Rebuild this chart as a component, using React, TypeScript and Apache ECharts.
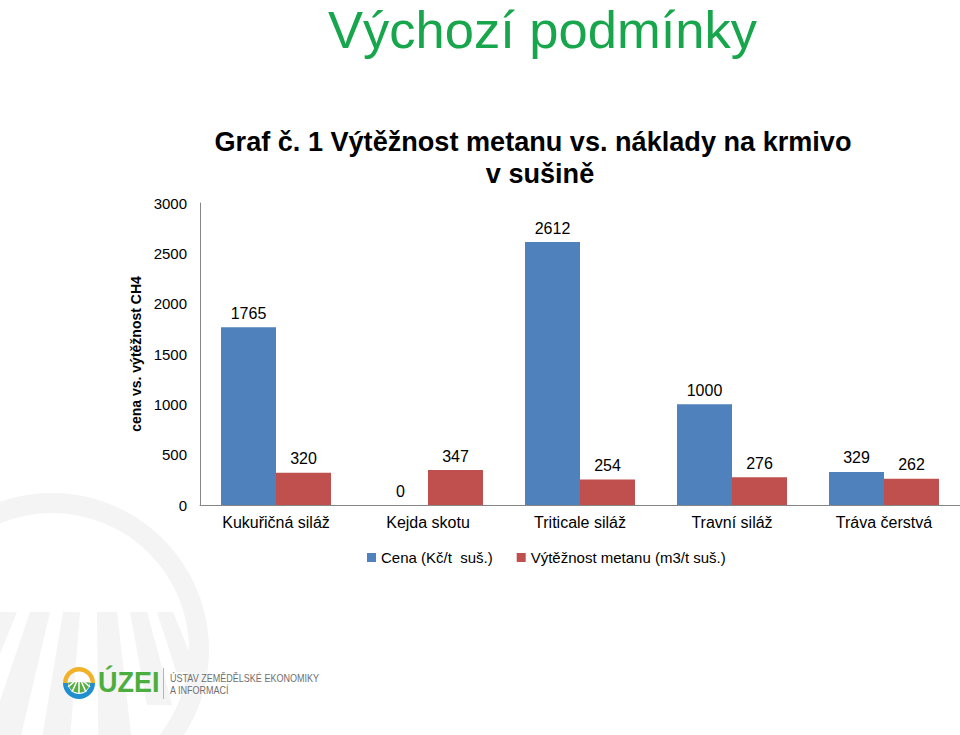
import React, { useEffect, useRef } from "react";
import * as echarts from "echarts";

const categories = ["Kukuřičná siláž", "Kejda skotu", "Triticale siláž", "Travní siláž", "Tráva čerstvá"];
const cenaValues = [1765, 0, 2612, 1000, 329];
const vyteznostValues = [320, 347, 254, 276, 262];
const seriesNames = ["Cena (Kč/t  suš.)", "Výtěžnost metanu (m3/t suš.)"];
const yTicks = { min: 0, max: 3000, interval: 500 };

const FONT = "'Liberation Sans', Arial, Helvetica, sans-serif";

function stripe(x0a: number, x0b: number, yTop: number, yBot: number) {
  const vx = 95, vy = 420;
  const f = (yBot - vy) / (yTop - vy);
  return [
    [x0a, yTop],
    [x0b, yTop],
    [vx + (x0b - vx) * f, yBot],
    [vx + (x0a - vx) * f, yBot],
  ];
}

export default function App() {
  const ref = useRef<HTMLDivElement>(null);
  useEffect(() => {
    if (!ref.current) return;
    const chart = echarts.init(ref.current, null, { renderer: "svg" });
    const wm = "#f4f4f4";
    const stripes = [
      stripe(0, 17, 612, 735),
      stripe(30, 50, 612, 735),
      stripe(63, 80, 612, 735),
      stripe(97, 117, 612, 735),
      stripe(130, 147, 612, 705),
      stripe(157, 173, 612, 672),
    ];
    const cx = 79, cy = 683;
    chart.setOption({
      animation: false,
      backgroundColor: "#ffffff",
      textStyle: { fontFamily: FONT },
      graphic: [
        // watermark
        { type: "ring", silent: true, z: -10, shape: { cx: 52, cy: 650, r: 157, r0: 137 }, style: { fill: wm } },
        ...stripes.map((pts) => ({ type: "polygon", silent: true, z: -10, shape: { points: pts }, style: { fill: wm } })),
        // main heading
        {
          type: "text", x: 328, y: 29,
          style: { text: "Výchozí podmínky", fontSize: 52.5, lineHeight: 48, fontFamily: FONT, fill: "#17a64b", textAlign: "left", textVerticalAlign: "middle" },
        },
        // chart title
        {
          type: "text", x: 533, y: 141, scaleX: 0.968,
          style: { text: "Graf č. 1 Výtěžnost metanu vs. náklady na krmivo", fontSize: 28, fontWeight: "bold", fontFamily: FONT, fill: "#000", textAlign: "center", textVerticalAlign: "middle" },
        },
        {
          type: "text", x: 540, y: 173, scaleX: 0.968,
          style: { text: "v sušině", fontSize: 28, fontWeight: "bold", fontFamily: FONT, fill: "#000", textAlign: "center", textVerticalAlign: "middle" },
        },
        // logo icon
        { type: "sector", shape: { cx, cy, r: 16, r0: 11.5, startAngle: Math.PI, endAngle: Math.PI * 2 }, style: { fill: "#f2b227" } },
        { type: "sector", shape: { cx, cy, r: 16, r0: 11, startAngle: 0, endAngle: Math.PI }, style: { fill: "#1f8fd0" } },
        { type: "sector", shape: { cx, cy: cy - 1, r: 11, startAngle: 0.05, endAngle: Math.PI - 0.05 }, style: { fill: "#5aad45" } },
        { type: "line", shape: { x1: cx, y1: cy - 2, x2: cx, y2: cy + 11 }, style: { stroke: "#fff", lineWidth: 1.5 } },
        { type: "line", shape: { x1: cx - 2, y1: cy - 2, x2: cx - 7, y2: cy + 9 }, style: { stroke: "#fff", lineWidth: 1.5 } },
        { type: "line", shape: { x1: cx + 2, y1: cy - 2, x2: cx + 7, y2: cy + 9 }, style: { stroke: "#fff", lineWidth: 1.5 } },
        { type: "line", shape: { x1: cx - 4, y1: cy - 2, x2: cx - 11, y2: cy + 4 }, style: { stroke: "#fff", lineWidth: 1.5 } },
        { type: "line", shape: { x1: cx + 4, y1: cy - 2, x2: cx + 11, y2: cy + 4 }, style: { stroke: "#fff", lineWidth: 1.5 } },
        {
          type: "text", x: 98, y: 681, scaleX: 0.9,
          style: { text: "ÚZEI", fontSize: 30, fontWeight: "bold", fontFamily: FONT, fill: "#4cae3f", textAlign: "left", textVerticalAlign: "middle" },
        },
        { type: "line", shape: { x1: 163.5, y1: 668, x2: 163.5, y2: 699 }, style: { stroke: "#b5b5b5", lineWidth: 1 } },
        {
          type: "text", x: 170, y: 678, scaleX: 0.86,
          style: { text: "ÚSTAV ZEMĚDĚLSKÉ EKONOMIKY", fontSize: 10.5, fontFamily: FONT, fill: "#6f6f6f", textAlign: "left", textVerticalAlign: "middle" },
        },
        {
          type: "text", x: 170, y: 690, scaleX: 0.86,
          style: { text: "A INFORMACÍ", fontSize: 10.5, fontFamily: FONT, fill: "#6f6f6f", textAlign: "left", textVerticalAlign: "middle" },
        },
      ],
      legend: {
        left: 362,
        top: 545,
        itemWidth: 9,
        itemHeight: 9,
        itemGap: 24,
        icon: "rect",
        textStyle: { fontSize: 15, color: "#000", fontFamily: FONT },
        data: seriesNames,
      },
      grid: { left: 200, right: 0, top: 203, bottom: 230, containLabel: false, outerBoundsMode: "none" },
      xAxis: {
        type: "category",
        data: categories,
        axisLine: { lineStyle: { color: "#868686" } },
        axisTick: { show: false },
        axisLabel: { color: "#000", fontSize: 16, margin: 9, fontFamily: FONT, interval: 0 },
      },
      yAxis: {
        type: "value",
        min: yTicks.min,
        max: yTicks.max,
        interval: yTicks.interval,
        name: "cena vs. výtěžnost CH4",
        nameLocation: "middle",
        nameGap: 46,
        nameTextStyle: { fontSize: 14, fontWeight: "bold", color: "#000", fontFamily: FONT },
        axisLine: { show: true, lineStyle: { color: "#868686" } },
        axisTick: { show: false },
        splitLine: { show: false },
        axisLabel: { color: "#000", fontSize: 15, margin: 13, fontFamily: FONT, formatter: (v: number) => String(v) },
      },
      series: [
        {
          name: seriesNames[0],
          type: "bar",
          data: cenaValues,
          barWidth: 55,
          barGap: "0%",
          itemStyle: { color: "#4f81bd" },
          label: { show: true, position: "top", distance: 6, fontSize: 16, color: "#000", fontFamily: FONT },
        },
        {
          name: seriesNames[1],
          type: "bar",
          data: vyteznostValues,
          barWidth: 55,
          barGap: "0%",
          itemStyle: { color: "#c0504d" },
          label: { show: true, position: "top", distance: 6, fontSize: 16, color: "#000", fontFamily: FONT },
        },
      ],
    });
    return () => chart.dispose();
  }, []);
  return <div ref={ref} style={{ position: "absolute", left: 0, top: 0, width: 960, height: 735 }} />;
}
